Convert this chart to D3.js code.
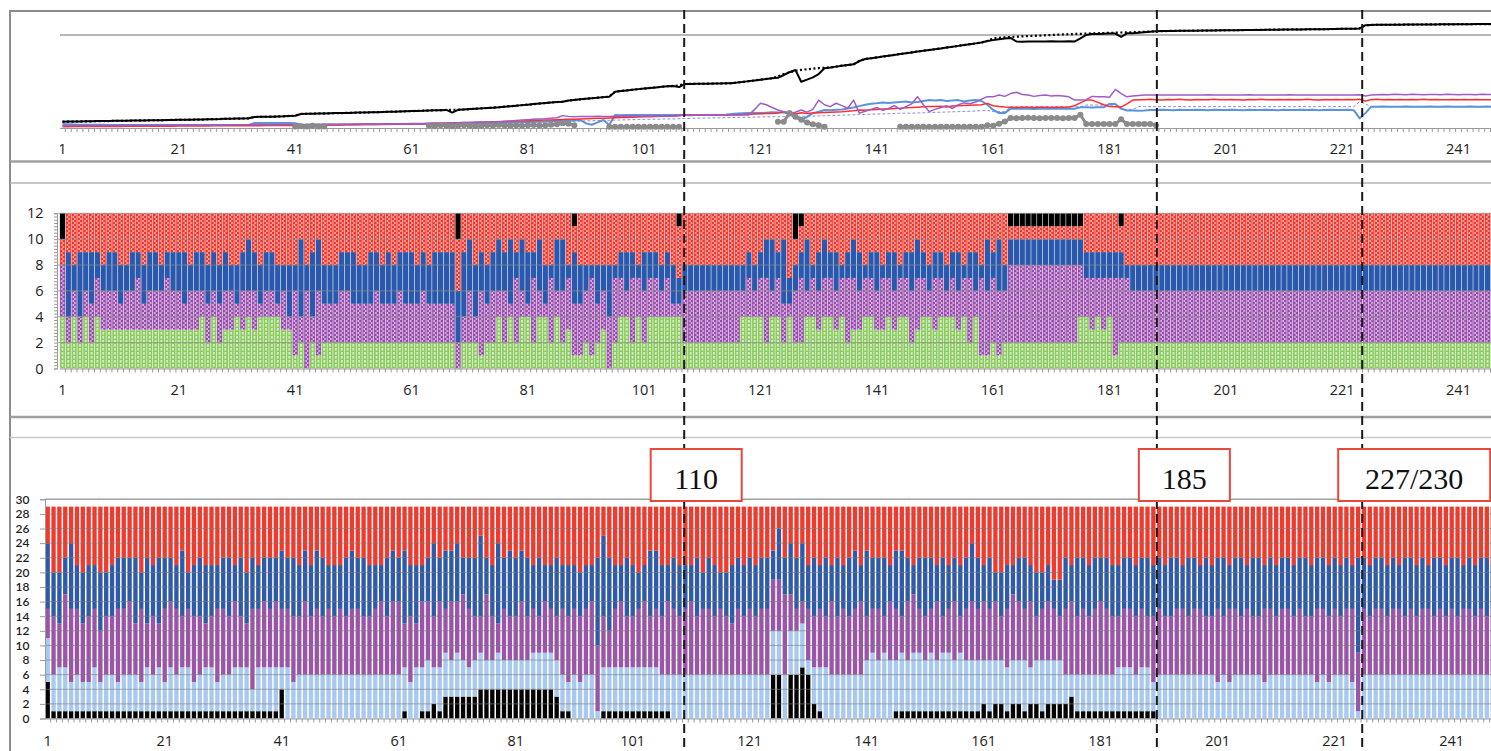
<!DOCTYPE html>
<html>
<head>
<meta charset="utf-8">
<script src="https://cdn.jsdelivr.net/npm/d3@7"></script>
<style>
  html, body { margin: 0; padding: 0; background: #fff; }
  svg { display: block; font-family: "Open Sans", Lato, sans-serif; }
</style>
</head>
<body>
<div id="chart"></div>
<script>
// Categories 1..248, labelled every 20
var N = 248;

// Top panel: line series (axis has no labels, 0..100 = axis..top gridline)
var lineBlack = [
 6.8,6.9,6.9,7.1,7.2,7.2,7.4,7.5,7.5,7.7, 7.8,7.8,8.0,8.1,8.1,8.3,8.4,8.4,8.6,8.7,
 8.8,8.8,9.0,9.1,9.1,9.3,9.5,9.6,9.9,10.0, 10.1,10.2,10.4,11.8,12.0,12.1,12.2,12.4,12.6,13.0,
 13.2,15.1,15.3,15.4,15.6,15.7,15.8,16.0,16.1,16.2, 16.4,16.6,16.7,16.9,17.0,17.2,17.4,17.6,17.8,18.0,
 18.2,18.4,18.6,18.8,19.0,19.2,19.4,16.5,19.6,19.9, 20.3,20.7,21.1,21.5,21.9,22.3,22.9,23.5,24.0,24.6,
 25.1,25.7,26.3,26.8,27.4,27.9,28.3,29.5,30.2,30.8, 31.4,32.0,32.6,33.2,33.7,39.0,39.8,40.4,41.1,41.8,
 42.4,43.0,43.6,44.3,44.9,45.2,44.0,47.3,47.4,47.5, 47.6,47.7,47.8,47.9,48.0,48.2,48.8,49.6,50.4,51.2,
 52.0,52.8,53.5,54.0,57.0,60.0,62.4,49.8,52.0,54.5, 58.0,64.2,65.0,66.0,67.0,67.8,68.5,72.0,74.2,75.0,
 75.9,76.8,77.7,78.6,79.5,80.4,81.3,82.2,83.1,83.9, 84.7,85.6,86.5,87.4,88.3,89.2,90.1,91.0,92.0,93.5,
 94.5,95.5,96.2,96.8,93.0,92.8,93.0,92.9,93.1,93.0, 93.2,93.0,93.1,93.3,93.0,96.5,100.0,101.0,101.2,101.4,
 101.5,101.6,98.0,101.8,102.0,102.5,103.0,103.5,104.0,104.2, 104.3,104.4,104.5,104.5,104.6,104.7,104.8,104.8,104.9,105.0,
 105.1,105.1,105.2,105.3,105.4,105.4,105.5,105.6,105.7,105.7, 105.8,105.9,106.0,106.0,106.1,106.2,106.3,106.3,106.4,106.5,
 106.6,106.6,106.7,107.0,110.5,110.8,110.9,111.0,111.0,111.1, 111.1,111.2,111.2,111.3,111.3,111.4,111.4,111.5,111.5,111.5,
 111.6,111.6,111.6,111.7,111.7,111.7,111.8,111.8
];
var lineDotted = [
 6.8,6.9,6.9,7.1,7.2,7.2,7.4,7.5,7.5,7.7, 7.8,7.8,8.0,8.1,8.1,8.3,8.4,8.4,8.6,8.7,
 8.8,8.8,9.0,9.1,9.1,9.3,9.5,9.6,9.9,10.0, 10.1,10.2,10.4,11.8,12.0,12.1,12.2,12.4,12.6,13.0,
 13.2,15.1,15.3,15.4,15.6,15.7,15.8,16.0,16.1,16.2, 16.4,16.6,16.7,16.9,17.0,17.2,17.4,17.6,17.8,18.0,
 18.2,18.4,18.6,18.8,19.0,19.2,19.4,19.5,19.6,19.9, 20.3,20.7,21.1,21.5,21.9,22.3,22.9,23.5,24.0,24.6,
 25.1,25.7,26.3,26.8,27.4,27.9,28.3,29.5,30.2,30.8, 31.4,32.0,32.6,33.2,33.7,39.0,39.8,40.4,41.1,41.8,
 42.4,43.0,43.6,44.3,44.9,45.2,45.8,47.3,47.4,47.5, 47.6,47.7,47.8,47.9,48.0,48.2,48.8,49.6,50.4,51.2,
 52.0,52.8,53.5,55.5,58.0,60.0,61.5,62.5,63.2,63.8, 64.3,64.7,65.0,66.0,67.0,67.8,68.5,72.0,74.2,75.0,
 75.9,76.8,77.7,78.6,79.5,80.4,81.3,82.2,83.1,83.9, 84.7,85.6,86.5,87.4,88.3,89.2,90.1,91.0,92.0,93.5,
 96.5,97.0,97.5,97.9,98.2,98.5,98.8,99.1,99.4,99.7, 100.0,100.3,100.6,100.9,101.1,101.3,101.5,101.7,101.9,102.1,
 102.3,102.5,102.7,102.9,103.0,103.2,103.5,103.8,104.0,104.2, 104.3,104.4,104.5,104.5,104.6,104.7,104.8,104.8,104.9,105.0,
 105.1,105.1,105.2,105.3,105.4,105.4,105.5,105.6,105.7,105.7, 105.8,105.9,106.0,106.0,106.1,106.2,106.3,106.3,106.4,106.5,
 106.6,106.6,106.7,107.0,110.5,110.8,110.9,111.0,111.0,111.1, 111.1,111.2,111.2,111.3,111.3,111.4,111.4,111.5,111.5,111.5,
 111.6,111.6,111.6,111.7,111.7,111.7,111.8,111.8
];
var linePurple = [
 2.5,2.5,2.6,2.6,2.6,2.7,2.7,2.7,2.8,2.8, 2.8,2.9,2.9,2.9,3.0,3.0,3.0,3.0,3.1,3.1,
 3.1,3.1,3.2,3.2,3.2,3.2,3.3,3.3,3.3,3.3, 3.4,3.4,3.4,3.5,3.6,3.5,3.6,3.6,3.7,3.7,
 3.8,3.5,3.6,3.9,3.8,3.9,4.0,4.0,4.1,4.1, 4.2,4.2,4.3,4.3,4.4,4.4,4.5,4.6,4.6,4.7,
 4.8,4.8,4.9,5.0,5.1,5.1,5.2,5.4,5.6,5.8, 6.0,6.2,6.4,6.5,6.7,6.8,7.2,7.6,8.0,8.5,
 9.0,9.5,9.8,10.0,10.5,11.0,13.3,12.5,12.0,12.5, 12.5,12.4,12.6,12.5,12.5,12.7,12.6,12.8,12.5,12.6,
 12.8,12.7,12.9,13.0,12.8,13.0,13.2,14.0,14.0,14.1, 14.0,14.2,14.0,14.1,14.2,14.0,14.1,14.3,14.0,20.0,
 26.6,25.0,22.0,19.4,17.5,16.0,17.0,19.4,17.0,20.0, 30.0,25.0,23.0,26.6,24.0,21.2,30.0,16.0,18.0,20.0,
 22.0,19.0,21.0,24.0,20.0,23.0,26.0,33.7,25.0,17.6, 20.0,22.0,24.0,21.0,25.0,27.0,26.0,28.0,31.0,33.7,
 33.5,35.5,34.0,37.0,38.5,36.0,35.5,34.0,35.0,35.5, 34.5,35.0,34.5,33.5,30.0,30.0,30.5,34.0,33.5,33.7,
 33.0,41.5,37.0,33.5,34.5,35.0,35.5,35.5,35.5,35.5, 35.4,35.6,35.5,35.4,35.6,35.5,35.5,35.7,35.4,35.5,
 35.6,35.5,35.4,35.5,35.7,35.5,35.6,35.4,35.5,35.6, 35.5,35.7,35.5,35.4,35.6,35.5,35.5,35.6,35.4,35.5,
 35.6,35.5,35.5,35.8,34.5,35.5,35.8,36.0,35.7,36.2, 36.0,35.8,36.2,36.0,35.7,36.1,36.0,35.8,36.2,36.0,
 35.8,36.1,36.0,35.7,36.2,36.0,35.9,36.1
];
var lineRed = [
 1.4,1.4,1.5,1.5,1.5,1.6,1.6,1.6,1.7,1.7, 1.7,1.8,1.8,1.8,1.9,1.9,1.9,2.0,2.0,2.0,
 2.1,2.1,2.1,2.2,2.2,2.2,2.3,2.3,2.3,2.4, 2.4,2.4,2.5,2.5,2.5,2.6,2.6,2.6,2.7,2.7,
 2.8,2.8,2.9,3.0,3.0,3.1,3.2,3.2,3.3,3.4, 3.5,3.6,3.7,3.7,3.8,3.9,4.0,4.1,4.2,4.3,
 4.4,4.5,4.7,4.8,5.0,5.1,5.3,5.4,5.6,5.8, 5.9,6.1,6.2,6.4,6.6,6.8,7.0,7.2,7.4,7.6,
 7.8,8.0,8.2,8.5,8.7,8.9,9.1,9.3,9.5,9.8, 10.0,10.2,10.4,10.6,10.8,11.0,11.2,11.4,11.6,11.8,
 12.0,12.2,12.3,12.5,12.6,12.8,13.5,14.0,14.0,14.0, 14.1,14.0,14.0,14.1,14.0,14.0,14.2,14.5,14.8,15.0,
 15.3,15.5,15.7,16.0,17.6,16.0,15.0,16.5,15.5,16.0, 16.5,16.8,17.0,17.3,17.5,18.0,18.5,19.4,19.0,19.5,
 20.0,20.3,20.5,21.0,21.3,21.8,22.0,22.4,22.8,23.0, 23.2,23.4,22.5,23.6,24.0,24.3,24.5,24.7,25.0,26.5,
 24.0,23.0,22.5,22.2,22.0,22.3,22.2,22.0,22.4,22.2, 22.0,22.3,22.2,22.5,24.0,27.0,30.0,30.0,27.5,25.0,
 23.0,22.9,22.5,26.0,30.0,30.5,30.3,30.8,30.5,30.2, 30.6,30.4,30.8,30.5,30.2,30.7,30.5,30.3,30.8,30.5,
 30.3,30.7,30.5,30.2,30.6,30.5,30.8,30.3,30.5,30.7, 30.4,30.6,30.5,30.3,30.8,30.5,30.2,30.6,30.5,30.7,
 30.4,30.6,30.5,31.0,29.0,30.5,30.8,30.3,30.6,30.5, 30.7,30.3,30.6,30.5,30.8,30.4,30.6,30.5,30.3,30.7,
 30.5,30.6,30.4,30.7,30.5,30.3,30.6,30.5
];
var lineBlue = [
 4.3,4.0,3.8,3.6,3.5,3.5,3.4,3.4,3.3,3.3, 3.3,3.2,3.2,3.3,3.2,3.2,3.3,3.2,3.2,3.3,
 3.2,3.3,3.2,3.2,3.3,3.2,3.2,3.3,3.2,3.3, 3.3,3.2,3.3,5.4,5.4,5.5,5.4,5.4,5.5,5.4,
 5.0,3.6,3.5,3.6,3.5,3.6,3.7,3.6,3.7,3.8, 3.8,3.9,3.9,4.0,4.0,4.1,4.1,4.2,4.2,4.3,
 4.3,4.4,4.4,4.5,4.5,4.6,4.6,4.7,4.8,4.9, 5.0,5.1,5.2,5.3,5.4,5.5,5.6,5.8,6.0,6.2,
 6.4,6.6,6.8,7.0,7.2,7.4,7.6,7.8,8.0,8.6, 5.0,3.5,6.0,8.6,3.2,14.0,13.8,14.0,13.9,14.0,
 14.0,13.9,14.1,14.0,13.9,14.0,14.1,14.0,13.8,14.0, 14.1,14.0,13.9,14.0,14.2,15.0,15.5,15.8,16.0,16.2,
 16.0,16.5,17.0,16.8,17.0,15.0,11.0,8.6,12.0,16.0, 17.5,19.4,19.0,19.5,20.0,21.0,22.0,23.5,25.0,26.0,
 26.5,27.3,27.0,27.5,28.0,28.5,27.5,28.0,29.0,30.0, 29.5,30.0,29.0,29.5,30.0,28.5,29.5,30.0,29.0,25.0,
 19.4,16.0,16.0,20.8,20.8,21.0,20.8,20.5,20.8,21.0, 20.8,20.6,20.8,21.0,20.8,22.2,22.2,22.0,22.3,22.2,
 25.9,25.9,21.0,18.7,18.7,18.6,18.7,19.4,19.3,19.5, 19.4,19.2,19.5,19.4,19.3,19.6,19.4,19.2,19.5,19.4,
 19.3,19.5,19.4,19.2,19.6,19.4,19.3,19.5,19.4,19.2, 19.5,19.4,19.3,19.6,19.4,19.5,19.2,19.4,19.5,19.3,
 19.4,19.5,19.2,10.4,16.0,22.9,22.9,23.0,22.9,22.8, 22.9,23.0,22.9,22.9,22.8,23.0,22.9,22.9,23.0,22.9,
 22.9,22.8,23.0,22.9,22.9,23.0,22.9,22.9
];
var lineLavender = [
 3.0,3.0,3.0,3.1,3.1,3.1,3.1,3.2,3.2,3.2, 3.2,3.2,3.3,3.3,3.3,3.3,3.3,3.4,3.4,3.4,
 3.4,3.4,3.4,3.5,3.5,3.5,3.5,3.5,3.5,3.6, 3.6,3.6,3.6,3.6,3.7,3.7,3.7,3.7,3.8,3.8,
 3.8,3.8,3.9,3.9,3.9,4.0,4.0,4.0,4.1,4.1, 4.1,4.2,4.2,4.2,4.3,4.3,4.3,4.4,4.4,4.5,
 4.5,4.5,4.6,4.6,4.7,4.7,4.8,4.8,4.9,4.9, 5.0,5.0,5.1,5.1,5.2,5.3,5.4,5.5,5.6,5.8,
 6.0,6.1,6.3,6.5,6.6,6.8,7.0,7.1,7.3,7.5, 7.6,7.8,8.0,8.1,8.3,8.5,8.6,8.8,9.0,9.1,
 9.3,9.4,9.5,9.6,9.7,9.7,10.0,10.2,10.4,10.5, 10.6,10.8,10.9,11.0,11.1,11.2,11.4,11.5,11.6,11.7,
 11.8,12.0,12.0,12.1,12.2,12.3,12.4,12.5,12.6,12.8, 13.0,13.2,13.4,13.6,13.8,14.0,14.2,14.4,14.6,14.8,
 15.0,15.2,15.4,15.6,15.9,15.9,16.0,16.2,16.4,16.6, 16.8,17.0,17.2,17.4,17.6,17.8,18.0,18.3,18.6,19.0,
 17.6,17.6,17.6,22.9,22.9,23.0,22.9,22.9,23.0,22.9, 22.9,23.0,22.9,22.9,23.0,22.9,24.7,24.7,24.6,24.7,
 24.7,24.6,20.0,20.0,20.0,22.9,23.0,22.9,22.9,23.0, 22.9,22.9,23.0,22.9,22.9,23.0,22.9,22.9,23.0,22.9,
 22.9,23.0,22.9,22.9,23.0,22.9,22.9,23.0,22.9,22.9, 23.0,22.9,22.9,23.0,22.9,22.9,23.0,22.9,22.9,23.0,
 22.9,22.9,23.0,28.2,26.0,22.9,23.0,22.9,22.9,23.0, 22.9,22.9,23.0,22.9,22.9,23.0,22.9,22.9,23.0,22.9,
 22.9,23.0,22.9,22.9,23.0,22.9,22.9,23.0
];
var lineGrey = [
 null,null,null,null,null,null,null,null,null,null, null,null,null,null,null,null,null,null,null,null,
 null,null,null,null,null,null,null,null,null,null, null,null,null,null,null,null,null,null,null,null,
 1.5,2.0,1.5,2.5,1.5,1.5,null,null,null,null, null,null,null,null,null,null,null,null,null,null,
 null,null,null,2.5,2.0,3.0,2.5,2.0,2.5,3.0, 2.5,2.0,2.5,3.0,2.5,3.2,2.8,2.5,3.0,2.5,
 3.0,3.2,2.8,3.0,3.5,4.0,5.0,4.5,3.0,null, null,null,null,null,1.4,1.4,1.4,1.4,1.4,1.4,
 1.4,1.4,1.4,1.4,1.4,1.4,1.4,null,null,null, null,null,null,null,null,null,null,null,null,null,
 null,null,null,6.8,6.8,16.0,12.0,9.0,6.0,4.0, 3.0,1.4,null,null,null,null,null,null,null,null,
 null,null,null,null,1.4,1.4,1.4,1.4,1.4,1.4, 1.4,1.4,1.4,1.4,1.4,1.4,1.4,1.4,1.4,3.0,
 2.5,4.5,7.0,10.7,10.5,10.7,10.9,10.7,10.5,10.7, 10.8,10.7,10.6,10.7,10.7,14.3,4.3,4.3,4.3,4.3,
 4.3,4.3,9.3,4.3,4.3,4.3,4.3,4.3,3.0,null, null,null,null,null,null,null,null,null,null,null,
 null,null,null,null,null,null,null,null,null,null, null,null,null,null,null,null,null,null,null,null,
 null,null,null,null,null,null,null,null,null,null, null,null,null,null,null,null,null,null,null,null,
 null,null,null,null,null,null,null,null
];

// Middle panel: stacked bars, total 12
var midGreen = [
 4,2,4,2,4,2,4,3,3,3, 3,3,3,3,3,3,3,3,3,3, 3,3,3,3,4,2,4,2,3,3, 4,3,4,3,4,4,4,4,3,3,
 1,2,0,2,1,2,2,2,2,2, 2,2,2,2,2,2,2,2,2,2, 2,2,2,2,2,2,2,2,0,2, 2,2,1,2,2,4,2,4,2,4,
 4,2,4,4,2,4,2,3,1,1, 2,1,2,3,0,2,4,4,2,4, 2,4,4,4,4,4,4,2,2,2, 2,2,2,2,2,2,2,4,4,4,
 4,2,4,4,2,4,2,2,4,4, 3,4,4,3,4,2,3,3,4,4, 3,3,4,3,4,4,2,3,4,4, 3,4,4,4,3,4,2,4,1,1,
 2,1,2,2,2,2,2,2,2,2, 2,2,2,2,2,4,4,3,4,3, 4,1,2,2,2,2,2,2,2,2, 2,2,2,2,2,2,2,2,2,2,
 2,2,2,2,2,2,2,2,2,2, 2,2,2,2,2,2,2,2,2,2, 2,2,2,2,2,2,2,2,2,2, 2,2,2,2,2,2,2,2,2,2,
 2,2,2,2,2,2,2,2
];
var midPurple = [
 4,2,2,2,2,3,3,3,3,3, 2,3,3,4,2,3,3,3,4,3, 3,2,3,3,2,3,2,3,3,3, 1,3,2,3,1,2,2,1,3,1,
 5,2,6,2,5,3,3,3,4,4, 3,3,3,3,4,3,3,3,4,3, 3,3,4,3,3,3,3,3,2,2, 4,2,5,3,4,2,4,1,5,2,
 1,5,2,1,5,2,4,4,4,4, 4,6,3,3,4,5,3,2,5,3, 4,3,3,2,3,1,1,4,4,4, 4,4,4,4,4,4,4,2,3,2,
 3,5,2,3,3,1,4,5,2,3, 3,3,3,3,3,5,4,3,3,3, 3,4,3,3,3,3,4,4,3,2, 4,3,2,3,3,3,5,2,6,5,
 5,5,4,6,6,6,6,6,6,6, 6,6,6,6,6,4,3,4,3,4, 3,6,5,5,4,4,4,4,4,4, 4,4,4,4,4,4,4,4,4,4,
 4,4,4,4,4,4,4,4,4,4, 4,4,4,4,4,4,4,4,4,4, 4,4,4,4,4,4,4,4,4,4, 4,4,4,4,4,4,4,4,4,4,
 4,4,4,4,4,4,4,4
];
var midBlue = [
 0,5,2,5,3,4,2,2,3,3, 3,2,3,2,3,3,3,2,2,3, 3,4,2,3,3,3,3,3,3,2, 3,3,4,3,3,3,3,3,2,4,
 2,6,2,5,4,3,3,3,3,3, 4,3,3,4,3,3,4,3,3,4, 4,3,3,3,4,4,4,4,4,5, 4,4,3,3,3,4,3,5,2,4,
 4,2,4,3,1,4,4,1,4,3, 2,1,3,2,4,1,2,3,2,1, 3,2,2,2,2,3,2,2,2,2, 2,2,2,2,2,2,2,2,2,2,
 2,3,4,2,5,2,2,2,4,1, 3,3,2,3,1,2,3,3,1,2, 3,1,2,3,1,2,3,3,2,2, 2,2,2,2,3,1,2,3,1,4,
 2,4,2,2,2,2,2,2,2,2, 2,2,2,2,2,2,2,2,2,2, 2,2,2,1,2,2,2,2,2,2, 2,2,2,2,2,2,2,2,2,2,
 2,2,2,2,2,2,2,2,2,2, 2,2,2,2,2,2,2,2,2,2, 2,2,2,2,2,2,2,2,2,2, 2,2,2,2,2,2,2,2,2,2,
 2,2,2,2,2,2,2,2
];
var midRed = [
 2,3,4,3,3,3,3,4,3,3, 4,4,3,3,4,3,3,4,3,3, 3,3,4,3,3,4,3,4,3,4, 4,3,2,3,4,3,3,4,4,4,
 4,2,4,3,2,4,4,4,3,3, 3,4,4,3,3,4,3,4,3,3, 3,4,3,4,3,3,3,3,4,3, 2,4,3,4,3,2,3,2,3,2,
 3,3,2,4,4,2,2,4,2,4, 4,4,4,4,4,4,3,3,3,4, 3,3,3,4,3,4,4,4,4,4, 4,4,4,4,4,4,4,4,3,4,
 3,2,2,3,2,5,2,2,2,4, 3,2,3,3,4,3,2,3,4,3, 3,4,3,3,4,3,3,2,3,4, 3,3,4,3,3,4,3,3,4,2,
 3,2,4,1,1,1,1,1,1,1, 1,1,1,1,1,1,3,3,3,3, 3,3,2,4,4,4,4,4,4,4, 4,4,4,4,4,4,4,4,4,4,
 4,4,4,4,4,4,4,4,4,4, 4,4,4,4,4,4,4,4,4,4, 4,4,4,4,4,4,4,4,4,4, 4,4,4,4,4,4,4,4,4,4,
 4,4,4,4,4,4,4,4
];
var midBlack = [
 2,0,0,0,0,0,0,0,0,0, 0,0,0,0,0,0,0,0,0,0, 0,0,0,0,0,0,0,0,0,0, 0,0,0,0,0,0,0,0,0,0,
 0,0,0,0,0,0,0,0,0,0, 0,0,0,0,0,0,0,0,0,0, 0,0,0,0,0,0,0,0,2,0, 0,0,0,0,0,0,0,0,0,0,
 0,0,0,0,0,0,0,0,1,0, 0,0,0,0,0,0,0,0,0,0, 0,0,0,0,0,0,1,0,0,0, 0,0,0,0,0,0,0,0,0,0,
 0,0,0,0,0,0,2,1,0,0, 0,0,0,0,0,0,0,0,0,0, 0,0,0,0,0,0,0,0,0,0, 0,0,0,0,0,0,0,0,0,0,
 0,0,0,1,1,1,1,1,1,1, 1,1,1,1,1,1,0,0,0,0, 0,0,1,0,0,0,0,0,0,0, 0,0,0,0,0,0,0,0,0,0,
 0,0,0,0,0,0,0,0,0,0, 0,0,0,0,0,0,0,0,0,0, 0,0,0,0,0,0,0,0,0,0, 0,0,0,0,0,0,0,0,0,0,
 0,0,0,0,0,0,0,0
];

// Bottom panel: stacked bars, total 29
var botBlack = [
 5,1,1,1,1,1,1,1,1,1, 1,1,1,1,1,1,1,1,1,1, 1,1,1,1,1,1,1,1,1,1, 1,1,1,1,1,1,1,1,1,1,
 4,0,0,0,0,0,0,0,0,0, 0,0,0,0,0,0,0,0,0,0, 0,1,0,0,1,1,2,1,3,3, 3,3,3,3,4,4,4,4,4,4,
 4,4,4,4,4,4,4,3,1,1, 0,0,0,0,0,1,1,1,1,1, 1,1,1,1,1,1,1,0,0,0, 0,0,0,0,0,0,0,0,0,0,
 0,0,0,0,6,6,0,6,6,7, 6,2,1,0,0,0,0,0,0,0, 0,0,0,0,0,1,1,1,1,1, 1,1,1,1,1,1,1,1,1,1,
 2,1,2,2,1,2,2,1,2,2, 1,2,2,2,2,3,1,1,1,1, 1,1,1,1,1,1,1,1,1,1, 0,0,0,0,0,0,0,0,0,0,
 0,0,0,0,0,0,0,0,0,0, 0,0,0,0,0,0,0,0,0,0, 0,0,0,0,0,0,0,0,0,0, 0,0,0,0,0,0,0,0,0,0,
 0,0,0,0,0,0,0,0
];
var botLight = [
 6,5,6,6,4,5,4,4,6,4, 5,5,4,5,5,5,4,6,5,6, 4,6,5,6,6,4,5,6,6,4, 5,5,6,6,6,3,6,6,6,6,
 3,7,5,6,6,6,6,6,6,6, 6,6,6,6,6,6,6,6,6,6, 6,6,5,7,6,7,5,6,6,5, 6,5,4,5,5,4,4,5,4,4,
 4,4,4,5,5,5,5,5,5,4, 6,5,6,6,1,6,6,6,6,6, 6,6,6,6,6,5,5,6,6,6, 6,6,6,6,6,6,6,6,6,6,
 6,6,6,6,6,6,6,6,6,6, 2,5,6,7,6,6,6,6,6,6, 8,9,8,9,8,7,8,7,8,8, 7,8,7,8,8,7,8,7,7,7,
 6,7,6,6,6,6,6,7,5,6, 7,6,6,6,4,3,5,5,5,5, 5,5,5,6,6,6,5,6,6,4, 6,6,6,6,6,6,6,6,6,6,
 5,6,5,6,6,6,6,6,5,6, 6,6,6,6,6,6,6,5,6,5, 6,6,6,5,1,6,6,6,6,6, 6,6,6,6,6,6,6,6,6,6,
 6,6,6,6,6,6,6,6
];
var botPurple = [
 4,8,6,10,10,9,8,9,8,7, 8,8,10,9,10,7,10,6,8,6, 10,9,9,7,8,9,8,6,7,10, 9,8,9,7,6,11,8,9,8,9,
 8,8,9,8,10,8,9,8,9,8, 9,8,9,9,8,8,9,10,8,10, 10,6,9,6,9,8,7,9,6,8, 7,9,8,6,5,9,6,4,7,6,
 6,8,6,6,5,7,6,6,9,9, 9,9,9,10,9,7,5,8,9,7, 7,8,9,7,8,8,10,9,8,9, 10,8,9,9,8,9,8,7,9,8,
 9,8,9,9,7,7,11,5,3,3, 7,7,8,7,10,8,9,8,9,10, 6,6,7,5,8,7,5,8,8,6, 6,6,8,5,6,8,5,7,8,7,
 8,7,8,6,8,9,8,7,9,6, 7,8,7,6,9,10,8,9,8,9, 10,9,8,7,8,8,8,8,7,9, 9,8,8,9,9,8,9,9,8,8,
 10,8,10,9,8,9,8,8,10,9, 8,9,9,8,9,8,8,10,9,9, 9,8,9,10,8,9,8,9,9,8, 9,9,8,9,8,9,9,8,9,8,
 9,8,9,9,8,9,8,9
];
var botBlue = [
 9,6,7,5,9,6,7,7,6,8, 6,7,7,7,6,9,5,9,7,9, 7,6,6,9,5,7,8,8,7,6, 7,8,5,8,7,7,6,6,7,6,
 8,7,8,7,7,7,8,8,6,7, 6,8,8,7,8,7,6,5,8,7, 6,10,7,8,5,6,10,6,8,7, 8,5,7,8,11,5,7,11,7,9,
 8,7,8,6,8,5,6,8,6,7, 6,6,6,5,12,11,10,6,5,8, 7,5,5,9,8,7,5,7,7,6, 5,8,5,7,7,5,6,8,7,7,
 7,7,7,7,4,7,5,7,7,8, 6,8,6,8,5,8,6,8,8,5, 9,7,7,8,5,8,9,6,4,7, 8,7,5,8,6,6,7,7,8,7,
 5,7,4,6,6,4,6,7,5,6, 5,5,4,5,7,5,8,7,7,7, 6,7,7,7,7,7,7,7,8,7, 7,7,8,7,6,8,7,6,8,7,
 7,8,6,7,8,6,8,8,6,7, 7,7,7,7,7,8,7,7,7,7, 7,7,7,6,13,7,7,7,7,7, 7,6,8,7,7,7,6,8,7,7,
 7,8,6,7,7,7,8,6
];
var botRed = [
 5,9,9,7,5,8,9,8,8,9, 9,8,7,7,7,7,9,7,8,7, 7,7,8,6,9,8,7,8,8,8, 7,7,8,7,9,7,8,7,7,7,
 6,7,7,8,6,8,6,7,8,8, 8,7,6,7,7,8,8,8,7,6, 7,6,8,8,8,7,5,7,6,6, 5,7,7,7,4,7,8,5,7,6,
 7,6,7,8,7,8,8,7,8,8, 8,9,8,8,7,4,7,8,8,7, 8,9,8,6,6,8,8,7,8,8, 8,7,9,7,8,9,9,8,7,8,
 7,8,7,7,6,3,7,5,7,5, 8,7,8,7,8,7,8,7,6,8, 6,7,7,7,8,6,6,7,8,7, 7,7,8,7,8,7,8,7,5,7,
 8,7,9,9,8,8,7,7,8,9, 9,8,10,10,7,8,7,7,8,7, 7,7,8,8,7,7,8,7,7,8, 7,8,7,7,8,7,7,8,7,8,
 7,7,8,7,7,8,7,7,8,7, 8,7,7,8,7,7,8,7,7,8, 7,8,7,8,7,7,8,7,7,8, 7,8,7,7,8,7,8,7,7,8,
 7,7,8,7,8,7,7,8
];

// Marked transitions (category positions on the bottom axis) and their labels
var markerCats = [109.8, 190.6, 225.7];
var markerLabels = ['110', '185', '227/230'];

// ---------------------------------------------------------------
var W = 1491, H = 751;
var svg = d3.select('#chart').append('svg')
    .attr('width', W)
    .attr('height', H);

var cats = d3.range(1, N + 1);
function isLabel(d) { return (d - 1) % 20 === 0; }

// X scales: centre of category 1 and 241
var stepA = (1458.5 - 62.5) / 240;
var xA = d3.scaleBand().domain(cats)
    .range([62.5 - stepA / 2, 62.5 - stepA / 2 + N * stepA])
    .paddingInner(0.1).paddingOuter(0.05);
var xAline = d3.scaleLinear().domain([1, 241]).range([62.5, 1458.5]);
var stepB = (1451.7 - 47.7) / 240;
var xB = d3.scaleBand().domain(cats)
    .range([47.7 - stepB / 2, 47.7 - stepB / 2 + N * stepB])
    .paddingInner(0.26).paddingOuter(0.13);
// fractional category -> pixel on bottom axis
var xBlin = d3.scaleLinear().domain([1, 241]).range([47.7, 1451.7]);

var yTop = d3.scaleLinear().domain([0, 100]).range([128, 35]);
var yMid = d3.scaleLinear().domain([0, 12]).range([368.5, 213.3]);
var yBot = d3.scaleLinear().domain([0, 30]).range([718.5, 499.3]);

// Frame and separators
var frame = svg.append('g');
frame.append('line').attr('x1', 10).attr('x2', 10).attr('y1', 10).attr('y2', H)
    .attr('stroke', '#8c8c8c').attr('stroke-width', 2);
frame.append('line').attr('x1', 9).attr('x2', W).attr('y1', 11).attr('y2', 11)
    .attr('stroke', '#8c8c8c').attr('stroke-width', 2);
[[161.5, '#a0a0a0', 2.5], [183, '#b4b4b4', 1.5], [417, '#a0a0a0', 2.5], [437.5, '#c8c8c8', 1.5]]
  .forEach(function(s) {
    frame.append('line').attr('x1', 10).attr('x2', W).attr('y1', s[0]).attr('y2', s[0])
        .attr('stroke', s[1]).attr('stroke-width', s[2]);
  });

// Category axis helper: ticks between categories, labels every 20
function catAxis(g, x, step, y, pad) {
  g.attr('transform', 'translate(0,' + y + ')')
    .call(d3.axisBottom(x).tickValues(cats).tickSize(4).tickSizeOuter(0).tickPadding(pad)
      .tickFormat(function(d) { return isLabel(d) ? d : ''; }));
  g.select('.domain').attr('stroke', '#9a9a9a').attr('stroke-width', 1.2);
  g.selectAll('.tick line').attr('stroke', '#9a9a9a')
    .attr('transform', 'translate(' + (step / 2) + ',0)');
  styleText(g, 14.5, '"Open Sans", Lato, sans-serif');
}
function styleText(g, size, family) {
  g.selectAll('.tick text')
    .attr('font-family', family).attr('font-size', size).attr('fill', '#1e1e1e');
}

// ---------------- Top panel ----------------
var gTop = svg.append('g');
gTop.append('line').attr('x1', 60).attr('x2', W).attr('y1', yTop(100)).attr('y2', yTop(100))
    .attr('stroke', '#a0a0a0').attr('stroke-width', 1.5);
catAxis(gTop.append('g'), xA, stepA, 128, 11.5);

function topLine(arr, color, width, dash) {
  var line = d3.line()
      .defined(function(d) { return d != null; })
      .x(function(d, i) { return xAline(cats[i]); })
      .y(function(d) { return yTop(d); });
  var p = gTop.append('path').datum(arr).attr('fill', 'none')
      .attr('stroke', color).attr('stroke-width', width)
      .attr('stroke-linejoin', 'round').attr('d', line);
  if (dash) p.attr('stroke-dasharray', dash);
}
topLine(lineLavender, '#8c8ce0', 1, '3,2');
topLine(lineBlue, '#5b93d9', 2);
topLine(lineRed, '#ff2d2d', 1.5);
topLine(linePurple, '#a05cc6', 1.5);
topLine(lineGrey, '#8a8a8a', 3);
gTop.append('g').selectAll('circle')
    .data(lineGrey.map(function(v, i) { return {c: cats[i], v: v}; })
      .filter(function(d) { return d.v != null; }))
    .join('circle')
    .attr('cx', function(d) { return xAline(d.c); })
    .attr('cy', function(d) { return yTop(d.v); })
    .attr('r', 3).attr('fill', '#8a8a8a');
topLine(lineDotted, '#000', 2.2, '2,2.5');
topLine(lineBlack, '#000', 2);

// ---------------- Middle panel ----------------
// pattern tiles are one category wide and start at the category slot edge
var defs = svg.append('defs');
var slot0 = 62.5 - stepA / 2;
function zigPattern(id, color) {
  var p = defs.append('pattern').attr('id', id)
      .attr('patternUnits', 'userSpaceOnUse').attr('x', slot0).attr('y', 0)
      .attr('width', stepA).attr('height', 4);
  p.append('rect').attr('width', stepA).attr('height', 4).attr('fill', color);
  p.append('rect').attr('x', stepA / 2 - 1.5).attr('y', 0.3).attr('width', 1.4).attr('height', 1.4).attr('fill', '#fff');
  p.append('rect').attr('x', stepA / 2 + 0.1).attr('y', 2.3).attr('width', 1.4).attr('height', 1.4).attr('fill', '#fff');
}
function dashPattern(id, color) {
  var p = defs.append('pattern').attr('id', id)
      .attr('patternUnits', 'userSpaceOnUse').attr('x', slot0).attr('y', 0)
      .attr('width', stepA).attr('height', 4);
  p.append('rect').attr('width', stepA).attr('height', 4).attr('fill', color);
  p.append('rect').attr('x', stepA / 2 - 0.6).attr('y', 0).attr('width', 1.2).attr('height', 2.6).attr('fill', '#fff');
}
zigPattern('pRed', '#f4332a');
zigPattern('pPurple', '#974aab');
dashPattern('pGreen', '#8dcb62');

var midRows = cats.map(function(c, i) {
  return {cat: c, green: midGreen[i], purple: midPurple[i], blue: midBlue[i], red: midRed[i], black: midBlack[i]};
});
var midFill = {green: 'url(#pGreen)', purple: 'url(#pPurple)', blue: '#2a58ad', red: 'url(#pRed)', black: '#000'};
var midStack = d3.stack().keys(['green', 'purple', 'blue', 'red', 'black'])(midRows);

var gMid = svg.append('g');
gMid.selectAll('g.layer').data(midStack).join('g').attr('class', 'layer')
    .attr('fill', function(d) { return midFill[d.key]; })
  .selectAll('rect').data(function(d) { return d; }).join('rect')
    .attr('x', function(d) { return xA(d.data.cat); })
    .attr('width', xA.bandwidth())
    .attr('y', function(d) { return yMid(d[1]); })
    .attr('height', function(d) { return yMid(d[0]) - yMid(d[1]); });

gMid.append('g').selectAll('line').data([2, 4, 6, 8, 10, 12]).join('line')
    .attr('x1', 57).attr('x2', W)
    .attr('y1', function(d) { return yMid(d); }).attr('y2', function(d) { return yMid(d); })
    .attr('stroke', '#8a8a8a').attr('stroke-opacity', 0.7).attr('stroke-width', 1);
catAxis(gMid.append('g'), xA, stepA, 368.5, 12);

var gMidY = gMid.append('g').attr('transform', 'translate(57,0)');
gMidY.call(d3.axisLeft(yMid).tickValues(d3.range(0, 12.01, 0.25)).tickSize(3).tickFormat(''));
gMidY.selectAll('line, path').attr('stroke', '#9a9a9a');
var gMidYL = gMid.append('g').attr('transform', 'translate(57,0)');
gMidYL.call(d3.axisLeft(yMid).tickValues([0, 2, 4, 6, 8, 10, 12]).tickSize(0).tickPadding(13.5));
gMidYL.select('.domain').remove();
styleText(gMidYL, 14.5, '"Open Sans", Lato, sans-serif');

// ---------------- Bottom panel ----------------
var botRows = cats.map(function(c, i) {
  return {cat: c, black: botBlack[i], light: botLight[i], purple: botPurple[i], blue: botBlue[i], red: botRed[i]};
});
var botFill = {black: '#000', light: '#a9c9ee', purple: '#9a55a8', blue: '#2f5aa8', red: '#f03a2e'};
var botStack = d3.stack().keys(['black', 'light', 'purple', 'blue', 'red'])(botRows);

var gBot = svg.append('g');
gBot.append('line').attr('x1', 45).attr('x2', W).attr('y1', yBot(30)).attr('y2', yBot(30))
    .attr('stroke', '#a0a0a0').attr('stroke-width', 1.5);
gBot.selectAll('g.layer').data(botStack).join('g').attr('class', 'layer')
    .attr('fill', function(d) { return botFill[d.key]; })
  .selectAll('rect').data(function(d) { return d; }).join('rect')
    .attr('x', function(d) { return xB(d.data.cat); })
    .attr('width', xB.bandwidth())
    .attr('y', function(d) { return yBot(d[1]); })
    .attr('height', function(d) { return yBot(d[0]) - yBot(d[1]); });

gBot.append('g').selectAll('line').data(d3.range(2, 29, 2)).join('line')
    .attr('x1', 45).attr('x2', W)
    .attr('y1', function(d) { return yBot(d); }).attr('y2', function(d) { return yBot(d); })
    .attr('stroke', '#7a7a7a').attr('stroke-opacity', 0.6).attr('stroke-width', 1);
catAxis(gBot.append('g'), xB, stepB, 718.5, 13.5);

// tight 0..30 scale: compact labels so neighbours do not collide
var gBotY = gBot.append('g').attr('transform', 'translate(45,0)');
gBotY.call(d3.axisLeft(yBot).tickValues(d3.range(0, 31, 2)).tickSize(5).tickPadding(10.5));
gBotY.selectAll('line, path').attr('stroke', '#9a9a9a');
styleText(gBotY, 12, 'Lato, sans-serif');
gBotY.selectAll('.tick text').attr('font-weight', 600);

// ---------------- Annotations ----------------
var boxLayout = [{dx: -33.5, w: 91}, {dx: -18, w: 91}, {dx: -24, w: 152}];
var gAnn = svg.append('g');
gAnn.selectAll('line').data(markerCats).join('line')
    .attr('x1', function(d) { return xBlin(d); }).attr('x2', function(d) { return xBlin(d); })
    .attr('y1', 10).attr('y2', H)
    .attr('stroke', '#1a1a1a').attr('stroke-width', 2).attr('stroke-dasharray', '9,5');

var boxes = gAnn.selectAll('g.box').data(markerCats).join('g').attr('class', 'box')
    .attr('transform', function(d, i) {
      return 'translate(' + (xBlin(d) + boxLayout[i].dx) + ',449)';
    });
boxes.append('rect')
    .attr('width', function(d, i) { return boxLayout[i].w; }).attr('height', 52)
    .attr('fill', '#fff').attr('stroke', '#e8473c').attr('stroke-width', 2);
boxes.append('text')
    .attr('x', function(d, i) { return boxLayout[i].w / 2; }).attr('y', 39.5)
    .attr('text-anchor', 'middle')
    .style('font-family', '"Liberation Serif", "DejaVu Serif", serif')
    .style('font-size', '30px').attr('fill', '#111')
    .text(function(d, i) { return markerLabels[i]; });
</script>
</body>
</html>
